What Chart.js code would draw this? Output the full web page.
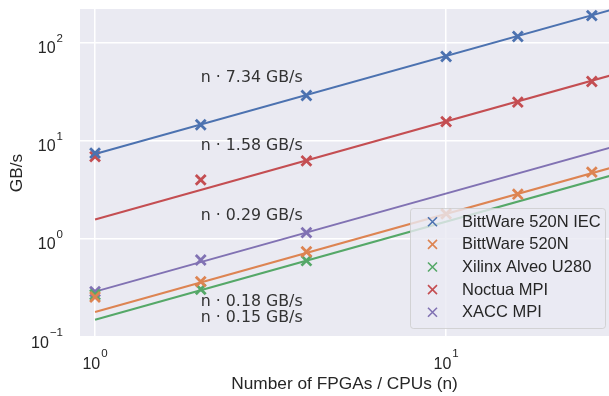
<!DOCTYPE html>
<html>
<head>
<meta charset="utf-8">
<script src="https://cdn.jsdelivr.net/npm/chart.js@4.4.1/dist/chart.umd.min.js"></script>
<style>
  html, body { margin: 0; padding: 0; background: #fff; overflow: hidden; }
  #wrap { width: 609px; height: 396px; }
  canvas { display: block; }
</style>
</head>
<body>
<div id="wrap"><canvas id="chart" width="609" height="396"></canvas></div>
<script>
// series
const seriesNames = ['BittWare 520N IEC', 'BittWare 520N', 'Xilinx Alveo U280', 'Noctua MPI', 'XACC MPI'];
const seriesColors = ['#4c72b0', '#dd8452', '#55a868', '#c44e52', '#8172b3'];

const nBittWareIEC = [1, 2, 4, 10, 16, 26];
const gbBittWareIEC = [7.5, 14.6, 29, 72.5, 116, 189];
const nBittWare = [1, 2, 4, 10, 16, 26];
const gbBittWare = [0.256, 0.367, 0.74, 1.8, 2.86, 4.8];
const nXilinx = [1, 2, 4];
const gbXilinx = [0.27, 0.307, 0.6];
const nNoctua = [1, 2, 4, 10, 16, 26];
const gbNoctua = [6.9, 4.0, 6.25, 15.7, 24.8, 40.3];
const nXacc = [1, 2, 4];
const gbXacc = [0.29, 0.61, 1.16];

// fitted per-device rate, line is n * rate
const fitRates = [7.34, 0.18, 0.15, 1.58, 0.29];
const fitRange = [1, 32];

// label text and where it sits (data coords)
const fitLabels = ['n · 7.34 GB/s', 'n · 0.18 GB/s', 'n · 0.15 GB/s', 'n · 1.58 GB/s', 'n · 0.29 GB/s'];
const fitLabelX = [2, 2, 2, 2, 2];
const fitLabelY = [44, 0.229, 0.156, 8.9, 1.72];

const xTicks = [1, 10];
const yTicks = [0.1, 1, 10, 100];

const measN = [nBittWareIEC, nBittWare, nXilinx, nNoctua, nXacc];
const measGB = [gbBittWareIEC, gbBittWare, gbXilinx, gbNoctua, gbXacc];

const datasets = [];
seriesNames.forEach((name, i) => {
    datasets.push({
        label: name,
        data: measN[i].map((n, k) => ({ x: n, y: measGB[i][k] })),
        showLine: false,
        pointStyle: 'crossRot',
        pointRadius: 7,
        pointBorderWidth: 2.8,
        borderColor: seriesColors[i],
        backgroundColor: seriesColors[i],
    });
    datasets.push({
        label: name + ' fit',
        data: fitRange.map((n) => ({ x: n, y: n * fitRates[i] })),
        showLine: true,
        pointRadius: 0,
        borderWidth: 2,
        borderColor: seriesColors[i],
        fill: false,
    });
});

const TEXT = '#262626';
const TICK_FONT = '16px "Liberation Sans", Arial, sans-serif';
const SUP_FONT = '11.5px "Liberation Sans", Arial, sans-serif';
const LEGEND_FONT = '16.5px "Liberation Sans", Arial, sans-serif';
const AXIS_FONT = '17.3px "Liberation Sans", Arial, sans-serif';

function expText(v) {
    return String(Math.round(Math.log10(v))).replace('-', '\u2212');
}

const seabornLook = {
    id: 'seabornLook',
    beforeDraw(chart) {
        const { ctx, chartArea: a } = chart;
        ctx.save();
        ctx.fillStyle = '#eaeaf2';
        ctx.fillRect(a.left, a.top, a.right - a.left, a.bottom - a.top);
        ctx.restore();
    },
    afterDatasetsDraw(chart) {
        const { ctx, chartArea: a } = chart;
        const xs = chart.scales.x, ys = chart.scales.y;
        ctx.save();
        ctx.beginPath();
        ctx.rect(a.left, a.top, a.right - a.left, a.bottom - a.top);
        ctx.clip();
        ctx.fillStyle = '#333';
        ctx.font = '15.8px "DejaVu Sans", sans-serif';
        ctx.textBaseline = 'middle';
        ctx.textAlign = 'left';
        fitLabels.forEach((t, i) => {
            ctx.fillText(t, xs.getPixelForValue(fitLabelX[i]), ys.getPixelForValue(fitLabelY[i]));
        });
        ctx.restore();
    },
    afterDraw(chart) {
        const { ctx, chartArea: a } = chart;
        const xs = chart.scales.x, ys = chart.scales.y;
        ctx.save();
        ctx.fillStyle = TEXT;
        ctx.textBaseline = 'alphabetic';
        ctx.textAlign = 'left';

        // y tick labels 10^k
        yTicks.forEach((v) => {
            const py = ys.getPixelForValue(v);
            const e = expText(v);
            ctx.font = TICK_FONT;
            const wb = ctx.measureText('10').width;
            ctx.font = SUP_FONT;
            const we = ctx.measureText(e).width;
            const x0 = 63 - wb - we - 1;
            ctx.font = TICK_FONT;
            ctx.fillText('10', x0, py + 10.5);
            ctx.font = SUP_FONT;
            ctx.fillText(e, x0 + wb + 1, py - 1);
        });

        // x tick labels 10^k
        xTicks.forEach((v) => {
            const px = xs.getPixelForValue(v);
            const e = expText(v);
            ctx.font = TICK_FONT;
            const wb = ctx.measureText('10').width;
            ctx.font = SUP_FONT;
            const we = ctx.measureText(e).width;
            const x0 = px - (wb + we + 1) / 2;
            ctx.font = TICK_FONT;
            ctx.fillText('10', x0, a.bottom + 31.5);
            ctx.font = SUP_FONT;
            ctx.fillText(e, x0 + wb + 1, a.bottom + 20);
        });

        // axis titles
        ctx.font = AXIS_FONT;
        ctx.textAlign = 'center';
        ctx.textBaseline = 'middle';
        ctx.fillText('Number of FPGAs / CPUs (n)', (a.left + a.right) / 2, 384);
        ctx.save();
        ctx.translate(17, (a.top + a.bottom) / 2);
        ctx.rotate(-Math.PI / 2);
        ctx.fillText('GB/s', 0, 0);
        ctx.restore();

        // legend
        const lx = 410, ly = 208, lw = 195, lh = 120;
        ctx.beginPath();
        ctx.roundRect(lx + 0.5, ly + 0.5, lw, lh, 3);
        ctx.fillStyle = 'rgba(234,234,242,0.8)';
        ctx.fill();
        ctx.strokeStyle = 'rgba(204,204,204,0.8)';
        ctx.lineWidth = 1;
        ctx.stroke();
        ctx.font = LEGEND_FONT;
        ctx.textAlign = 'left';
        seriesNames.forEach((name, i) => {
            const cy = 221.7 + i * 22.65;
            const cx = 432.5;
            ctx.strokeStyle = seriesColors[i];
            ctx.lineWidth = 1.6;
            ctx.beginPath();
            ctx.moveTo(cx - 4.5, cy - 4.5); ctx.lineTo(cx + 4.5, cy + 4.5);
            ctx.moveTo(cx - 4.5, cy + 4.5); ctx.lineTo(cx + 4.5, cy - 4.5);
            ctx.stroke();
            ctx.fillStyle = TEXT;
            ctx.fillText(name, 462, cy + 0.5);
        });
        ctx.restore();
    }
};

new Chart(document.getElementById('chart'), {
    type: 'scatter',
    data: { datasets },
    options: {
        responsive: false,
        animation: false,
        layout: { autoPadding: false, padding: { top: 9, right: 0, left: 0, bottom: 0 } },
        plugins: { legend: { display: false }, tooltip: { enabled: false } },
        scales: {
            x: {
                type: 'logarithmic',
                min: 0.906,
                max: 29.1,
                afterBuildTicks: (s) => { s.ticks = xTicks.map((v) => ({ value: v })); },
                afterFit: (s) => { s.height = 59; },
                ticks: { display: false },
                grid: { color: '#ffffff', lineWidth: 1.5, drawTicks: false },
                border: { display: false },
            },
            y: {
                type: 'logarithmic',
                min: 0.1,
                max: 221,
                afterBuildTicks: (s) => { s.ticks = yTicks.map((v) => ({ value: v })); },
                afterFit: (s) => { s.width = 80; },
                ticks: { display: false },
                grid: { color: '#ffffff', lineWidth: 1.5, drawTicks: false },
                border: { display: false },
            },
        },
    },
    plugins: [seabornLook],
});
</script>
</body>
</html>
